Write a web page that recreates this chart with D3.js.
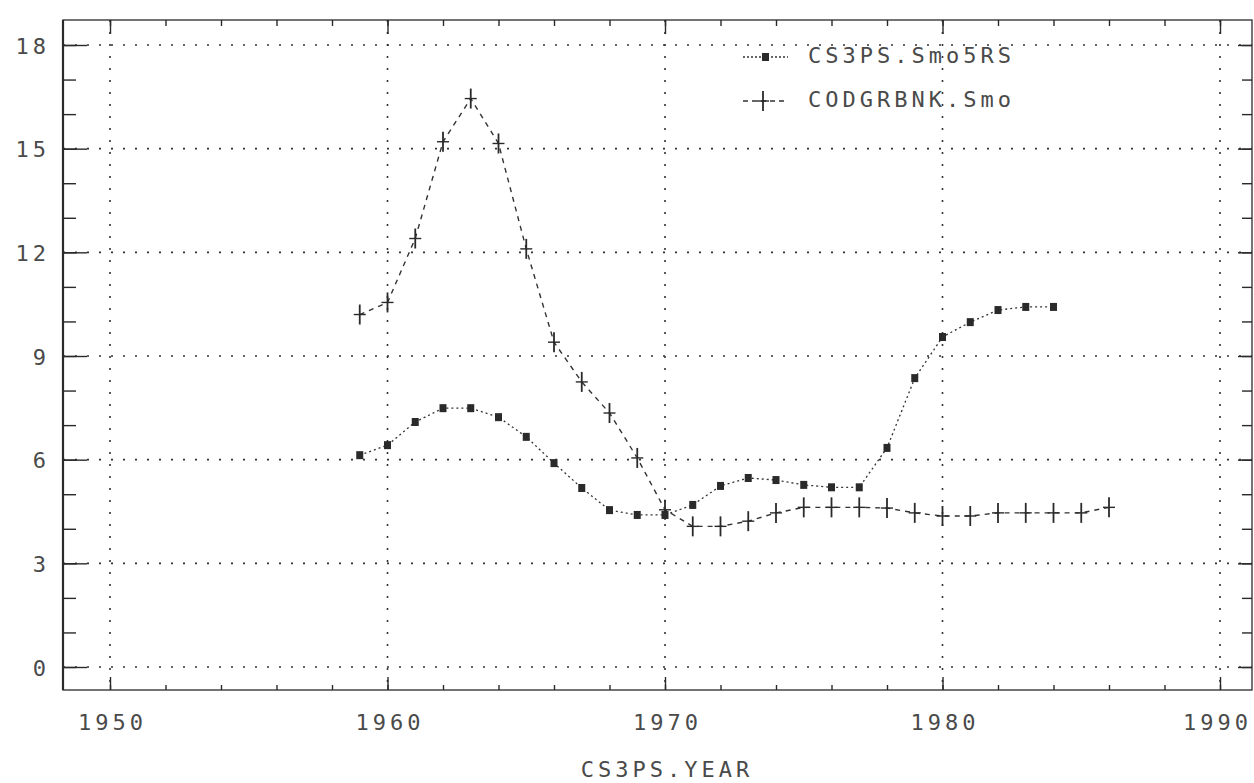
<!DOCTYPE html>
<html>
<head>
<meta charset="utf-8">
<script src="https://cdn.jsdelivr.net/npm/d3@7"></script>
<style>
  body { margin: 0; background: #fff; }
  svg text { font-family: "DejaVu Sans Mono", monospace; fill: #4a4a4a; }
</style>
</head>
<body>
<div id="chart"></div>
<script>
// series
var csYears = [1959, 1960, 1961, 1962, 1963, 1964, 1965, 1966, 1967, 1968, 1969, 1970, 1971,
               1972, 1973, 1974, 1975, 1976, 1977, 1978, 1979, 1980, 1981, 1982, 1983, 1984];
var cs3ps = [6.13, 6.42, 7.09, 7.49, 7.49, 7.23, 6.66, 5.9, 5.18, 4.54, 4.4, 4.4, 4.69,
             5.24, 5.47, 5.41, 5.27, 5.2, 5.2, 6.34, 8.36, 9.55, 9.98, 10.33, 10.42, 10.42];

var codYears = [1959, 1960, 1961, 1962, 1963, 1964, 1965, 1966, 1967, 1968, 1969, 1970, 1971, 1972,
                1973, 1974, 1975, 1976, 1977, 1978, 1979, 1980, 1981, 1982, 1983, 1984, 1985, 1986];
var codgrbnk = [10.2, 10.55, 12.4, 15.2, 16.45, 15.15, 12.1, 9.4, 8.25, 7.35, 6.05, 4.55, 4.07, 4.07,
                4.22, 4.46, 4.62, 4.62, 4.62, 4.6, 4.46, 4.37, 4.37, 4.46, 4.46, 4.46, 4.46, 4.62];

var xTicks = [1950, 1960, 1970, 1980, 1990];
var yTicks = [0, 3, 6, 9, 12, 15, 18];
var seriesNames = ["CS3PS.Smo5RS", "CODGRBNK.Smo"];
var xTitle = "CS3PS.YEAR";

var W = 1254, H = 783;
var frame = { left: 63, top: 20, right: 1252, bottom: 690 };
var INK = "#2a2a2a";
var FS = 22; // plotter font size
var LS = 4;  // and its letter spacing

var svg = d3.select("#chart").append("svg")
  .attr("width", W)
  .attr("height", H);

var x = d3.scaleLinear().domain([1950, 1990]).range([110, 1220]);
var y = d3.scaleLinear().domain([0, 18]).range([667, 45]);

// dotted grid
svg.append("g").selectAll("line")
  .data(xTicks)
  .enter().append("line")
  .attr("x1", function (d) { return x(d); })
  .attr("x2", function (d) { return x(d); })
  .attr("y1", frame.top)
  .attr("y2", frame.bottom)
  .attr("stroke", "#333")
  .attr("stroke-width", 1.6)
  .attr("stroke-dasharray", "2,10");

svg.append("g").selectAll("line")
  .data(yTicks)
  .enter().append("line")
  .attr("x1", frame.left)
  .attr("x2", frame.right)
  .attr("y1", function (d) { return y(d); })
  .attr("y2", function (d) { return y(d); })
  .attr("stroke", "#333")
  .attr("stroke-width", 1.6)
  .attr("stroke-dasharray", "2,10");

// ticks on all four sides, minor ones first
function tickAxis(axis, tx, ty)
{
  var g = svg.append("g")
    .attr("transform", "translate(" + tx + "," + ty + ")")
    .call(axis);
  g.select(".domain").remove();
  g.selectAll("line").attr("stroke", INK).attr("stroke-width", 1.4);
  return g;
}

var minorYears = d3.range(1950, 1991, 2);
var minorVals = d3.range(0, 19, 1);

tickAxis(d3.axisRight(y).tickValues(minorVals).tickSize(13).tickFormat(""), frame.left, 0);
tickAxis(d3.axisRight(y).tickValues(yTicks).tickSize(24).tickFormat(""), frame.left, 0);
tickAxis(d3.axisLeft(y).tickValues(minorVals).tickSize(10).tickFormat(""), frame.right, 0);
tickAxis(d3.axisLeft(y).tickValues(yTicks).tickSize(14).tickFormat(""), frame.right, 0);
tickAxis(d3.axisBottom(x).tickValues(minorYears).tickSize(6).tickFormat(""), 0, frame.top);
tickAxis(d3.axisBottom(x).tickValues(xTicks).tickSize(14).tickFormat(""), 0, frame.top);
tickAxis(d3.axisTop(x).tickValues(minorYears).tickSize(5).tickFormat(""), 0, frame.bottom);
tickAxis(d3.axisTop(x).tickValues(xTicks).tickSize(13).tickFormat(""), 0, frame.bottom);

// frame
svg.append("rect")
  .attr("x", frame.left)
  .attr("y", frame.top)
  .attr("width", frame.right - frame.left)
  .attr("height", frame.bottom - frame.top)
  .attr("fill", "none")
  .attr("stroke", INK)
  .attr("stroke-width", 1.3);
svg.append("line")
  .attr("x1", frame.left).attr("x2", frame.left)
  .attr("y1", frame.top).attr("y2", frame.bottom)
  .attr("stroke", INK).attr("stroke-width", 2.2);

function plotterText(sel)
{
  sel.attr("font-size", FS)
    .attr("letter-spacing", LS)
    .attr("dominant-baseline", "middle")
    .attr("fill", "#4a4a4a")
    .attr("font-family", "DejaVu Sans Mono, monospace");
}

// tick labels
var xLabels = d3.axisBottom(x).tickValues(xTicks).tickSize(0).tickPadding(0)
  .tickFormat(d3.format("d"));
var gx = svg.append("g").attr("transform", "translate(0,724)").call(xLabels);
gx.select(".domain").remove();
gx.selectAll("text")
  .call(plotterText)
  .attr("dy", 0)
  .attr("dx", function (d) { return d === 1990 ? LS / 2 - 5 : LS / 2; });

var yLabels = d3.axisLeft(y).tickValues(yTicks).tickSize(0).tickPadding(0);
var gy = svg.append("g").attr("transform", "translate(46,2)").call(yLabels);
gy.select(".domain").remove();
gy.selectAll("text")
  .call(plotterText)
  .attr("dy", 0)
  .attr("dx", LS);

svg.append("text")
  .attr("x", (x(1960) + x(1980)) / 2 + LS / 2)
  .attr("y", 771)
  .attr("text-anchor", "middle")
  .call(plotterText)
  .text(xTitle);

// series
var csData = csYears.map(function (yr, i) { return { year: yr, v: cs3ps[i] }; });
var codData = codYears.map(function (yr, i) { return { year: yr, v: codgrbnk[i] }; });

var line = d3.line()
  .x(function (d) { return x(d.year); })
  .y(function (d) { return y(d.v); });

svg.append("path")
  .datum(codData)
  .attr("d", line)
  .attr("fill", "none")
  .attr("stroke", "#333")
  .attr("stroke-width", 1.4)
  .attr("stroke-dasharray", "5,5");

svg.append("path")
  .datum(csData)
  .attr("d", line)
  .attr("fill", "none")
  .attr("stroke", "#333")
  .attr("stroke-width", 1.3)
  .attr("stroke-dasharray", "2,3");

function plusMarker(g, cx, cy)
{
  g.append("line")
    .attr("x1", cx - 6).attr("x2", cx + 6)
    .attr("y1", cy).attr("y2", cy)
    .attr("stroke", INK).attr("stroke-width", 1.4);
  g.append("line")
    .attr("x1", cx).attr("x2", cx)
    .attr("y1", cy - 10).attr("y2", cy + 10)
    .attr("stroke", INK).attr("stroke-width", 1.8);
}

var plusG = svg.append("g");
codData.forEach(function (d) { plusMarker(plusG, x(d.year), y(d.v)); });

svg.append("g").selectAll("rect")
  .data(csData)
  .enter().append("rect")
  .attr("x", function (d) { return x(d.year) - 3.5; })
  .attr("y", function (d) { return y(d.v) - 4; })
  .attr("width", 7)
  .attr("height", 8)
  .attr("fill", INK);

// legend
var legend = svg.append("g");
var legendY = [57, 101];

legend.selectAll("line")
  .data(legendY)
  .enter().append("line")
  .attr("x1", 743)
  .attr("x2", 788)
  .attr("y1", function (d) { return d; })
  .attr("y2", function (d) { return d; })
  .attr("stroke", "#333")
  .attr("stroke-width", 1.4)
  .attr("stroke-dasharray", function (d, i) { return i === 0 ? "2,2" : "5,4"; });

legend.append("rect")
  .attr("x", 762).attr("y", legendY[0] - 4)
  .attr("width", 7).attr("height", 8)
  .attr("fill", INK);
plusMarker(legend, 763, legendY[1]);

legend.selectAll("text")
  .data(seriesNames)
  .enter().append("text")
  .attr("x", 808)
  .attr("y", function (d, i) { return legendY[i]; })
  .call(plotterText)
  .text(function (d) { return d; });
</script>
</body>
</html>
